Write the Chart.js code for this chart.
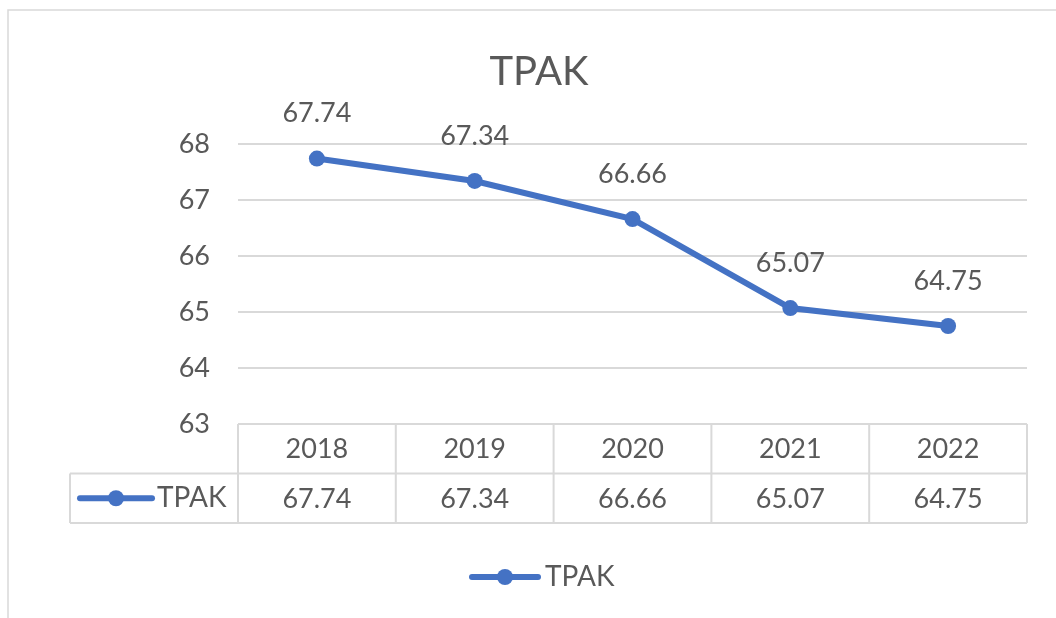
<!DOCTYPE html>
<html>
<head>
<meta charset="utf-8">
<title>TPAK</title>
<script src="https://cdn.jsdelivr.net/npm/chart.js@4"></script>
<style>
  html, body { margin: 0; padding: 0; background: #fff; }
  #wrap { width: 1056px; height: 618px; position: relative; }
</style>
</head>
<body>
<div id="wrap"><canvas id="chart" width="1056" height="618"></canvas></div>
<script>
// values for the TPAK series
const years = ['2018', '2019', '2020', '2021', '2022'];
const tpak = [67.74, 67.34, 66.66, 65.07, 64.75];
const seriesName = 'TPAK';
const yTicks = [63, 64, 65, 66, 67, 68];

const BLUE = '#4472c4';
const TEXT = '#595959';
const GRID = '#d9d9d9';
const FONT = 'Lato, "Liberation Sans", sans-serif';
const SIZE = 27;

// excel-style marker line used in the table and the legend
function drawKey(ctx, x1, x2, y) {
  ctx.save();
  ctx.strokeStyle = BLUE;
  ctx.lineWidth = 6;
  ctx.lineCap = 'round';
  ctx.beginPath();
  ctx.moveTo(x1, y);
  ctx.lineTo(x2, y);
  ctx.stroke();
  ctx.fillStyle = BLUE;
  ctx.beginPath();
  ctx.arc((x1 + x2) / 2, y, 8, 0, Math.PI * 2);
  ctx.fill();
  ctx.restore();
}

const extras = {
  id: 'extras',
  afterDraw(chart) {
    const ctx = chart.ctx;
    const area = chart.chartArea;
    const xs = chart.scales.x;
    const ys = chart.scales.y;
    const meta = chart.getDatasetMeta(0);

    ctx.save();
    // outer frame
    ctx.strokeStyle = '#d9d9d9';
    ctx.lineWidth = 1.5;
    ctx.beginPath();
    ctx.moveTo(8, 618);
    ctx.lineTo(8, 10);
    ctx.lineTo(1056, 10);
    ctx.stroke();

    // title
    ctx.fillStyle = TEXT;
    ctx.font = '40px ' + FONT;
    ctx.textAlign = 'center';
    ctx.textBaseline = 'middle';
    ctx.fillText(seriesName, 539, 72);

    // value labels over the points
    ctx.font = SIZE + 'px ' + FONT;
    meta.data.forEach((pt, i) => {
      ctx.fillText(tpak[i].toFixed(2), pt.x, pt.y - 45);
    });

    // data table under the plot
    const top = ys.getPixelForValue(yTicks[0]);
    const rowH = 49.5;
    const half = (xs.getPixelForValue(1) - xs.getPixelForValue(0)) / 2;
    const left = area.left;
    const right = area.right;
    const keyLeft = 70;
    ctx.strokeStyle = GRID;
    ctx.lineWidth = 2;
    ctx.beginPath();
    ctx.moveTo(left, top); ctx.lineTo(right, top);
    ctx.moveTo(keyLeft, top + rowH); ctx.lineTo(right, top + rowH);
    ctx.moveTo(keyLeft, top + rowH * 2); ctx.lineTo(right, top + rowH * 2);
    ctx.moveTo(keyLeft, top + rowH); ctx.lineTo(keyLeft, top + rowH * 2);
    years.forEach((y, i) => {
      const cx = xs.getPixelForValue(i);
      ctx.moveTo(cx - half, top); ctx.lineTo(cx - half, top + rowH * 2);
    });
    ctx.moveTo(right, top); ctx.lineTo(right, top + rowH * 2);
    ctx.stroke();

    ctx.fillStyle = TEXT;
    ctx.font = SIZE + 'px ' + FONT;
    ctx.textAlign = 'center';
    years.forEach((y, i) => {
      const cx = xs.getPixelForValue(i);
      ctx.fillText(y, cx, top + rowH / 2 + 1);
      ctx.fillText(tpak[i].toFixed(2), cx, top + rowH * 1.5 + 1);
    });
    drawKey(ctx, 80, 152, top + rowH * 1.5);
    ctx.font = '28px ' + FONT;
    ctx.textAlign = 'left';
    ctx.fillText(seriesName, 157, top + rowH * 1.5);

    // legend
    drawKey(ctx, 472, 538, 577);
    ctx.fillStyle = TEXT;
    ctx.fillText(seriesName, 545, 577);
    ctx.restore();
  }
};

new Chart(document.getElementById('chart'), {
  type: 'line',
  data: {
    labels: years,
    datasets: [{
      label: seriesName,
      data: tpak,
      borderColor: BLUE,
      backgroundColor: BLUE,
      borderWidth: 6,
      pointRadius: 8,
      pointBorderWidth: 0,
      tension: 0
    }]
  },
  options: {
    responsive: false,
    animation: false,
    layout: { padding: { top: 144, left: 0, right: 29, bottom: 194 } },
    plugins: {
      legend: { display: false },
      title: { display: false },
      tooltip: { enabled: false }
    },
    scales: {
      x: {
        offset: true,
        grid: { display: false },
        border: { display: false },
        ticks: { display: false },
        afterFit(scale) { scale.height = 0; }
      },
      y: {
        min: 63,
        max: 68,
        afterFit(scale) { scale.width = 238; },
        afterBuildTicks(scale) { scale.ticks = yTicks.map(v => ({ value: v })); },
        border: { display: false },
        grid: { color: GRID, lineWidth: 2, drawTicks: false },
        ticks: {
          padding: 28,
          color: TEXT,
          font: { family: FONT, size: SIZE }
        }
      }
    }
  },
  plugins: [extras]
});
</script>
</body>
</html>
